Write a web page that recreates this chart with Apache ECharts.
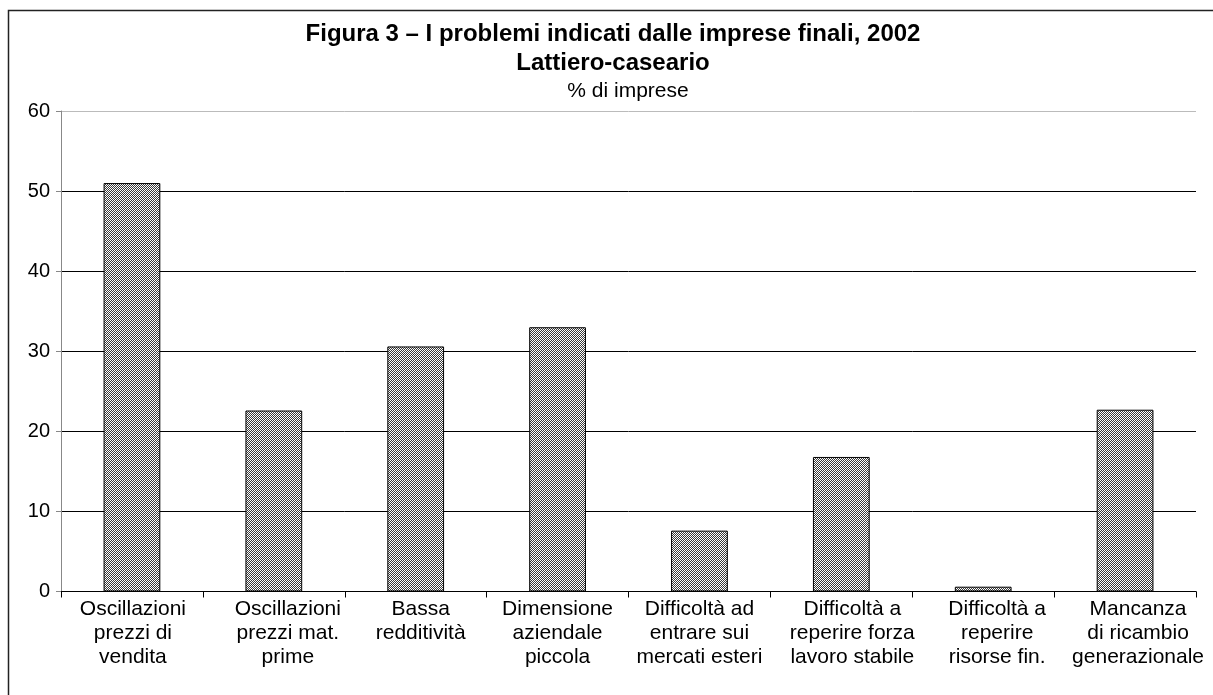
<!DOCTYPE html>
<html>
<head>
<meta charset="utf-8">
<script src="https://cdn.jsdelivr.net/npm/echarts@6/dist/echarts.min.js"></script>
<style>html,body{margin:0;padding:0;background:#fff;}#c{width:1213px;height:695px;}</style>
</head>
<body>
<div id="c"></div>
<script>
var categories = [
  "Oscillazioni\nprezzi di\nvendita",
  "Oscillazioni\nprezzi mat.\nprime",
  "Bassa\nredditività",
  "Dimensione\naziendale\npiccola",
  "Difficoltà ad\nentrare sui\nmercati esteri",
  "Difficoltà a\nreperire forza\nlavoro stabile",
  "Difficoltà a\nreperire\nrisorse fin.",
  "Mancanza\ndi ricambio\ngenerazionale"
];
var values = [51.0, 22.6, 30.6, 33.0, 7.6, 16.8, 0.6, 22.7];
var yTicks = [0, 10, 20, 30, 40, 50, 60];
// horizontal nudge of each category label (style only)
var labelShift = [1, 14, 5, 0, 0, 11, 14, 13];

var pc = document.createElement('canvas');
pc.width = 4; pc.height = 4;
var ctx = pc.getContext('2d');
ctx.fillStyle = '#ffffff';
ctx.fillRect(0, 0, 4, 4);
ctx.fillStyle = '#3a3a3a';
for (var i = 0; i < 4; i++) {
  ctx.fillRect(i, (3 - i), 1, 1);
  ctx.fillRect(i, (3 - i + 2) % 4, 1, 1);
}

var catData = categories.map(function (c, k) {
  var s = labelShift[k];
  return {value: c, textStyle: {padding: s >= 0 ? [0, 0, 0, 2 * s] : [0, -2 * s, 0, 0]}};
});

var chart = echarts.init(document.getElementById('c'), null, {renderer: 'canvas'});
var font = '"Liberation Sans", Arial, sans-serif';
chart.setOption({
  animation: false,
  backgroundColor: '#fff',
  graphic: [{
    type: 'rect', silent: true,
    shape: {x: 8.5, y: 10.5, width: 1400, height: 900},
    style: {fill: 'none', stroke: '#222', lineWidth: 1.5}
  }, {
    type: 'text', silent: true,
    style: {x: 613, y: 34, align: 'center', verticalAlign: 'middle',
      text: 'Figura 3 – I problemi indicati dalle imprese finali, 2002', font: 'bold 24px ' + font, fill: '#000'}
  }, {
    type: 'text', silent: true,
    style: {x: 613, y: 63, align: 'center', verticalAlign: 'middle',
      text: 'Lattiero-caseario', font: 'bold 24px ' + font, fill: '#000'}
  }, {
    type: 'text', silent: true,
    style: {x: 628, y: 91, align: 'center', verticalAlign: 'middle',
      text: '% di imprese', font: '21px ' + font, fill: '#000'}
  }],
  grid: {left: 61, right: 17, top: 111, bottom: 103.5, containLabel: false},
  xAxis: {
    type: 'category',
    data: catData,
    axisLine: {lineStyle: {color: '#000', width: 1}},
    axisTick: {show: true, alignWithLabel: false, length: 6, lineStyle: {color: '#000'}},
    axisLabel: {interval: 0, color: '#000', fontFamily: font, fontSize: 21, lineHeight: 24, margin: 6, align: 'center'}
  },
  yAxis: {
    type: 'value',
    min: yTicks[0], max: yTicks[yTicks.length - 1], interval: 10,
    axisLine: {show: true, lineStyle: {color: '#888', width: 1}},
    axisTick: {show: true, length: 5, lineStyle: {color: '#888'}},
    axisLabel: {color: '#000', fontFamily: font, fontSize: 20, margin: 11,
      formatter: function (v) { return yTicks.indexOf(v) >= 0 ? String(v) : ''; }},
    splitLine: {show: true, lineStyle: {color: ['#000', '#000', '#000', '#000', '#000', '#000', '#bbb'], width: 1}}
  },
  series: [{
    type: 'bar',
    data: values,
    barWidth: '40%',
    itemStyle: {color: {image: pc, repeat: 'repeat'}, borderColor: '#000', borderWidth: 1}
  }]
});
</script>
</body>
</html>
